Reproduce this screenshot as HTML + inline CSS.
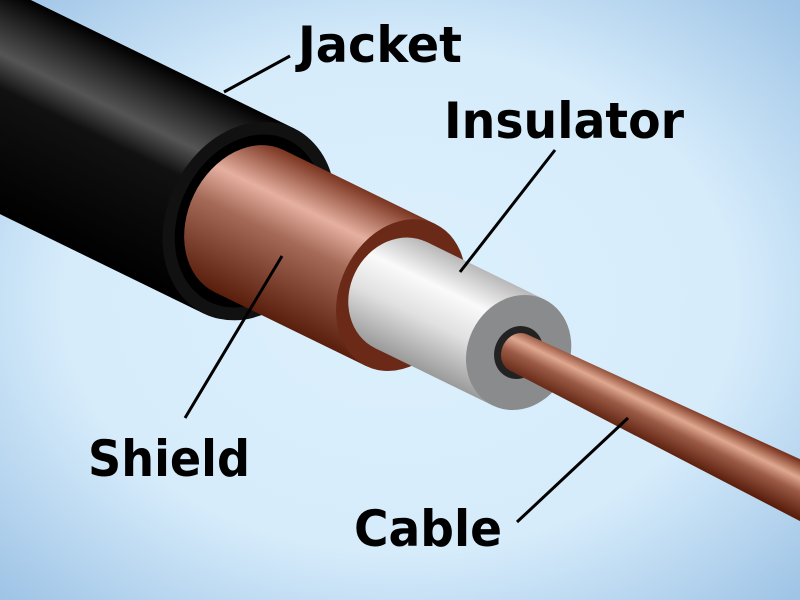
<!DOCTYPE html>
<html><head><meta charset="utf-8"><style>
html,body{margin:0;padding:0;width:800px;height:600px;overflow:hidden}
svg{display:block}
text{font-family:"DejaVu Sans Condensed","DejaVu Sans","Liberation Sans",sans-serif;font-weight:bold;fill:#000}
</style></head><body>
<svg width="800" height="600" viewBox="0 0 800 600">
<defs>
<radialGradient id="bg" cx="50%" cy="50%" r="70%">
<stop offset="0" stop-color="#dcf0fd"/><stop offset="0.6" stop-color="#d6ecfb"/><stop offset="1" stop-color="#9fc4e6"/>
</radialGradient>
<linearGradient id="jk" x1="0" y1="-103" x2="0" y2="103" gradientUnits="userSpaceOnUse">
<stop offset="0" stop-color="#000"/><stop offset="0.3" stop-color="#555"/><stop offset="0.45" stop-color="#111"/><stop offset="1" stop-color="#000"/>
</linearGradient>
<linearGradient id="sh" x1="0" y1="-79" x2="0" y2="79" gradientUnits="userSpaceOnUse">
<stop offset="0" stop-color="#7a3520"/><stop offset="0.28" stop-color="#e6b0a0"/><stop offset="0.5" stop-color="#a56a58"/><stop offset="1" stop-color="#5a1e0c"/>
</linearGradient>
<linearGradient id="in" x1="0" y1="-59" x2="0" y2="59" gradientUnits="userSpaceOnUse">
<stop offset="0" stop-color="#b8b8b8"/><stop offset="0.3" stop-color="#fafafa"/><stop offset="0.6" stop-color="#e0e0e0"/><stop offset="1" stop-color="#9a9a9a"/>
</linearGradient>
<linearGradient id="co" x1="0" y1="-26" x2="0" y2="26" gradientUnits="userSpaceOnUse">
<stop offset="0" stop-color="#7a3520"/><stop offset="0.3" stop-color="#e0a890"/><stop offset="0.55" stop-color="#9a5a45"/><stop offset="1" stop-color="#5a1e0c"/>
</linearGradient>
</defs>
<rect width="800" height="600" fill="url(#bg)"/>
<g transform="translate(249,221) rotate(26)">
  <rect x="-400" y="-103" width="400" height="206" fill="url(#jk)"/>
  <ellipse cx="0" cy="0" rx="82" ry="103" fill="#111"/>
  <ellipse cx="0" cy="0" rx="70" ry="90" fill="#000"/>
  <ellipse cx="0" cy="0" rx="61" ry="79" fill="url(#sh)"/>
  <rect x="0" y="-79" width="169" height="158" fill="url(#sh)"/>
  <ellipse cx="169" cy="0" rx="61" ry="79" fill="#6b2a17"/>
  <ellipse cx="169" cy="0" rx="51" ry="59" fill="url(#in)"/>
  <rect x="169" y="-59" width="131" height="118" fill="url(#in)"/>
  <ellipse cx="300" cy="0" rx="51" ry="59" fill="#8a8b8d"/>
  <ellipse cx="300" cy="0" rx="24" ry="27" fill="#222"/>
  <polygon points="300,-20 700,-30 700,30 300,20" fill="url(#co)"/>
  <ellipse cx="300" cy="0" rx="17" ry="20" fill="url(#co)"/>
</g>
<g stroke="#000" stroke-width="3" fill="none">
<line x1="290" y1="56" x2="224" y2="92"/>
<line x1="555" y1="150" x2="460" y2="272"/>
<line x1="185" y1="418" x2="282" y2="256"/>
<line x1="517" y1="522" x2="628" y2="418"/>
</g>
<text x="298" y="62" font-size="50" textLength="164" lengthAdjust="spacingAndGlyphs">Jacket</text>
<text x="444" y="138" font-size="50" textLength="240" lengthAdjust="spacingAndGlyphs">Insulator</text>
<text x="88" y="476" font-size="50" textLength="162" lengthAdjust="spacingAndGlyphs">Shield</text>
<text x="354" y="546" font-size="50" textLength="148" lengthAdjust="spacingAndGlyphs">Cable</text>
</svg>
</body></html>
